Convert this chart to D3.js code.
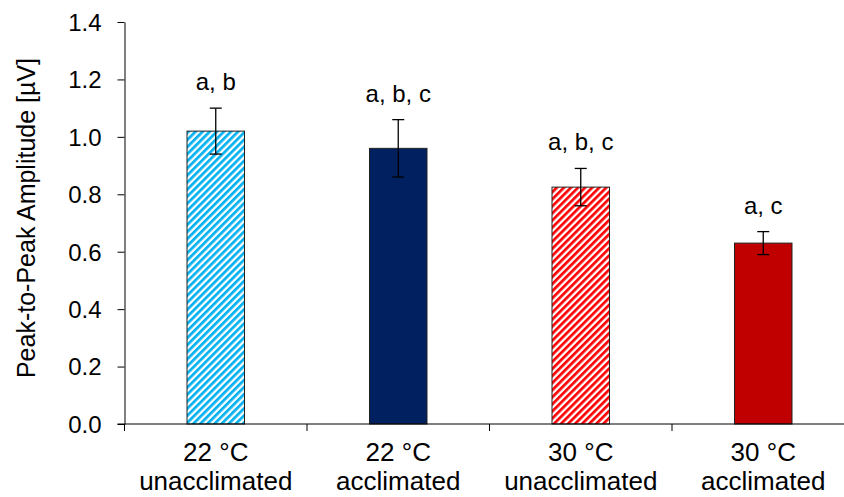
<!DOCTYPE html>
<html>
<head>
<meta charset="utf-8">
<script src="https://cdn.jsdelivr.net/npm/d3@7"></script>
<style>
  body { margin: 0; background: #fff; }
  text { font-family: Arial, "Liberation Sans", sans-serif; fill: #000; }
</style>
</head>
<body>
<script>
// data
var groups = ["22 °C|unacclimated", "22 °C|acclimated", "30 °C|unacclimated", "30 °C|acclimated"];
var means = [1.02, 0.96, 0.825, 0.63];
var errors = [0.08, 0.10, 0.065, 0.04];
var letters = ["a, b", "a, b, c", "a, b, c", "a, c"];
var yTicks = [0, 0.2, 0.4, 0.6, 0.8, 1.0, 1.2, 1.4];

var fills = ["url(#hatchBlue)", "#002060", "url(#hatchRed)", "#C00000"];

var width = 844, height = 497;
var margin = {top: 22, left: 124.5, bottom: 73};
var plotH = height - margin.top - margin.bottom;

var svg = d3.select("body").append("svg")
    .attr("width", width)
    .attr("height", height);

// hatch patterns
var defs = svg.append("defs");
function hatch(id, color) {
  var p = defs.append("pattern")
      .attr("id", id)
      .attr("patternUnits", "userSpaceOnUse")
      .attr("width", 5).attr("height", 5)
      .attr("patternTransform", "rotate(45)");
  p.append("rect").attr("width", 5).attr("height", 5).attr("fill", "#fff");
  p.append("rect").attr("width", 2.7).attr("height", 5).attr("fill", color);
}
hatch("hatchBlue", "#00B0F0");
hatch("hatchRed", "#FF0000");

var x = d3.scaleBand()
    .domain(groups)
    .range([margin.left, margin.left + 182.5 * 4])
    .paddingInner(0.685)
    .paddingOuter(0.3425);

var y = d3.scaleLinear()
    .domain([0, 1.4])
    .range([margin.top + plotH, margin.top]);

var g = svg.append("g");

// bars
g.selectAll(".bar")
    .data(groups)
    .enter().append("rect")
    .attr("class", "bar")
    .attr("x", function(d) { return x(d); })
    .attr("width", x.bandwidth())
    .attr("y", function(d, i) { return y(means[i]); })
    .attr("height", function(d, i) { return y(0) - y(means[i]); })
    .attr("fill", function(d, i) { return fills[i]; })
    .attr("stroke", "#222")
    .attr("stroke-width", 1);

// error bars
var eb = g.selectAll(".err")
    .data(groups)
    .enter().append("g")
    .attr("class", "err")
    .attr("transform", function(d) { return "translate(" + (x(d) + x.bandwidth() / 2) + ",0)"; });
eb.append("line")
    .attr("y1", function(d, i) { return y(means[i] + errors[i]); })
    .attr("y2", function(d, i) { return y(means[i] - errors[i]); })
    .attr("stroke", "#000").attr("stroke-width", 1.3);
eb.append("line")
    .attr("x1", -6).attr("x2", 6)
    .attr("y1", function(d, i) { return y(means[i] + errors[i]); })
    .attr("y2", function(d, i) { return y(means[i] + errors[i]); })
    .attr("stroke", "#000").attr("stroke-width", 1.3);
eb.append("line")
    .attr("x1", -6).attr("x2", 6)
    .attr("y1", function(d, i) { return y(means[i] - errors[i]); })
    .attr("y2", function(d, i) { return y(means[i] - errors[i]); })
    .attr("stroke", "#000").attr("stroke-width", 1.3);

// significance letters
g.selectAll(".letter")
    .data(groups)
    .enter().append("text")
    .attr("class", "letter")
    .attr("x", function(d) { return x(d) + x.bandwidth() / 2; })
    .attr("y", function(d, i) { return y(means[i] + errors[i]) - 18; })
    .attr("text-anchor", "middle")
    .style("font-size", "24px")
    .text(function(d, i) { return letters[i]; });

// Y axis
var yAxis = svg.append("g")
    .attr("transform", "translate(" + margin.left + ",0)")
    .call(d3.axisLeft(y).tickValues(yTicks).tickFormat(d3.format(".1f")).tickSize(7).tickSizeOuter(0));
yAxis.selectAll("text").style("font-size", "24px").attr("x", -23).attr("dy", "0.35em");
yAxis.selectAll("line, path").attr("stroke", "#000");

// X axis (category boundaries as ticks)
var xAxisLine = svg.append("g");
xAxisLine.append("line")
    .attr("x1", margin.left - 7).attr("x2", width)
    .attr("y1", y(0)).attr("y2", y(0))
    .attr("stroke", "#000");
xAxisLine.selectAll(".sep")
    .data(groups)
    .enter().append("line")
    .attr("class", "sep")
    .attr("x1", function(d) { return x(d) - x.step() * x.paddingOuter(); })
    .attr("x2", function(d) { return x(d) - x.step() * x.paddingOuter(); })
    .attr("y1", y(0)).attr("y2", y(0) + 7)
    .attr("stroke", "#000");

var labels = svg.selectAll(".cat")
    .data(groups)
    .enter().append("text")
    .attr("class", "cat")
    .attr("text-anchor", "middle")
    .style("font-size", "26px")
    .attr("transform", function(d) { return "translate(" + (x(d) + x.bandwidth() / 2) + "," + (y(0) + 37) + ")"; });
labels.append("tspan").attr("x", 0).attr("y", 0).text(function(d) { return d.split("|")[0]; });
labels.append("tspan").attr("x", 0).attr("y", 29).text(function(d) { return d.split("|")[1]; });

// Y label
svg.append("text")
    .attr("transform", "translate(35," + (margin.top + 196) + ") rotate(-90)")
    .attr("text-anchor", "middle")
    .style("font-size", "25px")
    .text("Peak-to-Peak Amplitude [µV]");
</script>
</body>
</html>
